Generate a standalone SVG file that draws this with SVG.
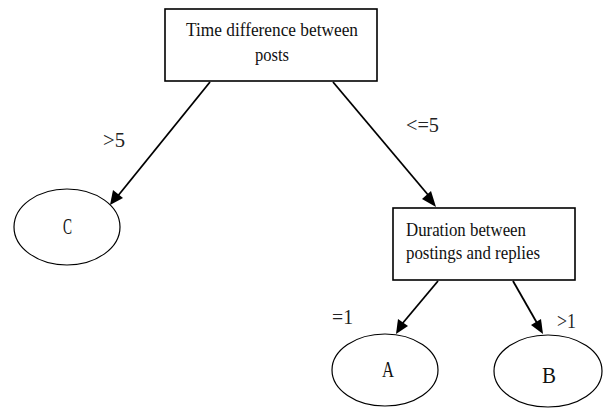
<svg xmlns="http://www.w3.org/2000/svg" width="603" height="409" viewBox="0 0 603 409">
<style>
.box{fill:#fff;stroke:#000;stroke-width:1.6}
.ell{fill:#fff;stroke:#000;stroke-width:1.2}
.t{font-family:"Liberation Serif","Times New Roman",serif;font-size:19px;fill:#111}
.lbl{font-family:"Liberation Serif","Times New Roman",serif;font-size:21px;fill:#222}
.let{font-family:"Liberation Serif","Times New Roman",serif;font-size:24px;fill:#111}
.ln{stroke:#000;stroke-width:1.8;fill:none}
.hd{fill:#000}
</style>
<rect width="603" height="409" fill="#fff"/>
<g id="connectors">
<line class="ln" x1="210" y1="82" x2="117" y2="197"/>
<path class="hd" d="M110,205 l3,-15 l10,8 z"/>
<line class="ln" x1="333" y1="82" x2="429" y2="196"/>
<path class="hd" d="M436,207 l-14,-8 l9,-8 z"/>
<line class="ln" x1="438" y1="281" x2="402" y2="324"/>
<path class="hd" d="M396,334 l2,-15 l10,7 z"/>
<line class="ln" x1="513" y1="281" x2="537" y2="323"/>
<path class="hd" d="M543,334 l-12,-9 l10,-6 z"/>
<text class="lbl" x="103" y="147" textLength="22" lengthAdjust="spacingAndGlyphs">&gt;5</text>
<text class="lbl" x="406" y="132" textLength="33" lengthAdjust="spacingAndGlyphs">&lt;=5</text>
<text class="lbl" x="332" y="324" textLength="21" lengthAdjust="spacingAndGlyphs">=1</text>
<text class="lbl" x="557" y="328" textLength="19" lengthAdjust="spacingAndGlyphs" fill="#555">&gt;1</text>
</g>
<g id="root">
<rect class="box" x="165" y="9" width="212" height="72"/>
<text class="t" x="186" y="36" textLength="172" lengthAdjust="spacingAndGlyphs">Time difference  between</text>
<text class="t" x="272" y="61" text-anchor="middle" textLength="34" lengthAdjust="spacingAndGlyphs">posts</text>
</g>
<g id="duration">
<rect class="box" x="393" y="208" width="182" height="72"/>
<text class="t" x="406" y="236" textLength="120" lengthAdjust="spacingAndGlyphs">Duration between</text>
<text class="t" x="406" y="259" textLength="134" lengthAdjust="spacingAndGlyphs">postings and replies</text>
</g>
<g id="nodeC">
<ellipse class="ell" cx="67" cy="227" rx="53" ry="38"/>
<text class="let" x="63" y="234" textLength="9" lengthAdjust="spacingAndGlyphs" font-size="18">C</text>
</g>
<g id="nodeA">
<ellipse class="ell" cx="385" cy="370" rx="53" ry="36"/>
<text class="let" x="382" y="377" textLength="12" lengthAdjust="spacingAndGlyphs">A</text>
</g>
<g id="nodeB">
<ellipse class="ell" cx="548" cy="371" rx="54" ry="36"/>
<text class="let" x="542" y="383" textLength="14" lengthAdjust="spacingAndGlyphs">B</text>
</g>
</svg>
